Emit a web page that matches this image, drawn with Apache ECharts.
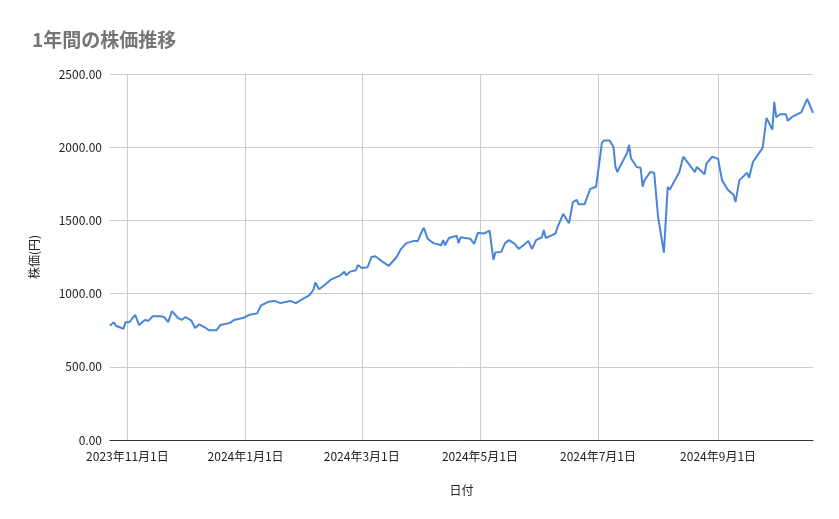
<!DOCTYPE html>
<html><head><meta charset="utf-8">
<script src="https://cdn.jsdelivr.net/npm/echarts@6/dist/echarts.min.js"></script>
<style>html,body{margin:0;padding:0;background:#fff}#c{width:839px;height:519px}</style>
</head><body><div id="c"></div>
<script>
const dates = ['2023-10-23','2023-10-25','2023-10-26','2023-10-28','2023-10-30','2023-10-31','2023-11-02','2023-11-05','2023-11-07','2023-11-10','2023-11-12','2023-11-14','2023-11-18','2023-11-20','2023-11-22','2023-11-24','2023-11-27','2023-11-29','2023-12-01','2023-12-04','2023-12-06','2023-12-08','2023-12-11','2023-12-13','2023-12-17','2023-12-19','2023-12-24','2023-12-26','2023-12-31','2024-01-03','2024-01-07','2024-01-09','2024-01-13','2024-01-16','2024-01-19','2024-01-24','2024-01-27','2024-02-01','2024-02-03','2024-02-05','2024-02-06','2024-02-08','2024-02-11','2024-02-14','2024-02-19','2024-02-21','2024-02-22','2024-02-24','2024-02-27','2024-02-28','2024-03-01','2024-03-04','2024-03-06','2024-03-08','2024-03-12','2024-03-15','2024-03-19','2024-03-21','2024-03-24','2024-03-28','2024-03-30','2024-03-31','2024-04-02','2024-04-04','2024-04-07','2024-04-11','2024-04-12','2024-04-13','2024-04-15','2024-04-19','2024-04-20','2024-04-21','2024-04-26','2024-04-28','2024-04-30','2024-05-03','2024-05-06','2024-05-08','2024-05-09','2024-05-12','2024-05-14','2024-05-16','2024-05-19','2024-05-21','2024-05-23','2024-05-26','2024-05-28','2024-05-30','2024-06-02','2024-06-03','2024-06-04','2024-06-09','2024-06-10','2024-06-13','2024-06-16','2024-06-18','2024-06-20','2024-06-21','2024-06-24','2024-06-27','2024-06-30','2024-07-03','2024-07-04','2024-07-07','2024-07-09','2024-07-10','2024-07-11','2024-07-12','2024-07-16','2024-07-17','2024-07-18','2024-07-21','2024-07-23','2024-07-24','2024-07-25','2024-07-28','2024-07-30','2024-08-01','2024-08-04','2024-08-06','2024-08-07','2024-08-12','2024-08-14','2024-08-18','2024-08-20','2024-08-21','2024-08-25','2024-08-26','2024-08-29','2024-09-01','2024-09-03','2024-09-06','2024-09-09','2024-09-10','2024-09-12','2024-09-16','2024-09-17','2024-09-19','2024-09-24','2024-09-26','2024-09-29','2024-09-30','2024-10-01','2024-10-03','2024-10-06','2024-10-07','2024-10-09','2024-10-14','2024-10-17','2024-10-20'];
const prices = [780,805,780,770,760,805,805,855,785,820,815,845,845,840,805,880,835,820,840,815,765,790,770,750,750,785,800,820,835,855,865,920,945,950,935,950,935,975,990,1025,1075,1030,1060,1095,1125,1150,1125,1150,1160,1195,1175,1180,1250,1255,1215,1190,1250,1300,1345,1360,1360,1395,1450,1375,1345,1330,1365,1330,1380,1395,1345,1385,1375,1340,1415,1410,1430,1230,1280,1285,1345,1365,1340,1305,1325,1360,1305,1365,1385,1435,1380,1410,1450,1545,1480,1625,1640,1610,1610,1715,1730,2030,2045,2045,2000,1865,1830,1860,1960,2015,1925,1865,1860,1730,1775,1830,1825,1525,1280,1730,1710,1830,1935,1865,1830,1865,1815,1890,1935,1920,1775,1710,1675,1625,1775,1825,1790,1900,1995,2200,2120,2310,2205,2225,2225,2180,2205,2240,2330,2235];
const tickDates = ['2023-11-01','2024-01-01','2024-03-01','2024-05-01','2024-07-01','2024-09-01'];

const ts = s => { const [y,m,d] = s.split('-').map(Number); return new Date(y, m-1, d).getTime(); };
const fmt = v => { const d = new Date(v); return d.getFullYear() + '年' + (d.getMonth()+1) + '月' + d.getDate() + '日'; };
const chart = echarts.init(document.getElementById('c'));
const font = "'Noto Sans CJK JP', Roboto, sans-serif";
chart.setOption({
  animation: false,
  title: { text: '1年間の株価推移', left: 27, top: 25, textStyle: { color: '#757575', fontSize: 19, fontWeight: 'bold', fontFamily: font } },
  grid: { left: 110, right: 26, top: 74, bottom: 79 },
  xAxis: {
    type: 'time', min: ts('2023-10-23'), max: ts('2024-10-20'),
    name: '日付', nameLocation: 'middle', nameGap: 44,
    nameTextStyle: { color: '#222', fontSize: 12, fontFamily: font },
    axisLine: { lineStyle: { color: '#333' } },
    axisTick: { show: false }, splitLine: { show: false }, axisLabel: { show: false }
  },
  yAxis: {
    type: 'value', min: 0, max: 2500, interval: 500,
    name: '株価(円)', nameLocation: 'middle', nameGap: 70, nameRotate: 90,
    nameTextStyle: { color: '#222', fontSize: 12, fontFamily: font },
    axisLine: { show: false }, axisTick: { show: false },
    splitLine: { lineStyle: { color: '#cccccc' } },
    axisLabel: { color: '#222', fontSize: 12, fontFamily: font, formatter: v => v.toFixed(2) }
  },
  series: [{
    type: 'line', showSymbol: false, symbol: 'none',
    data: dates.map((d, i) => [ts(d), prices[i]]),
    lineStyle: { color: '#4a86d8', width: 2 }, itemStyle: { color: '#4a86d8' },
    markLine: {
      silent: true, symbol: 'none', z: 1,
      lineStyle: { color: '#cccccc', type: 'solid', width: 1 },
      label: { show: true, position: 'start', distance: 10, color: '#222', fontSize: 12, fontFamily: font, formatter: p => fmt(p.value) },
      data: tickDates.map(d => ({ xAxis: ts(d) }))
    }
  }]
});
</script></body></html>
